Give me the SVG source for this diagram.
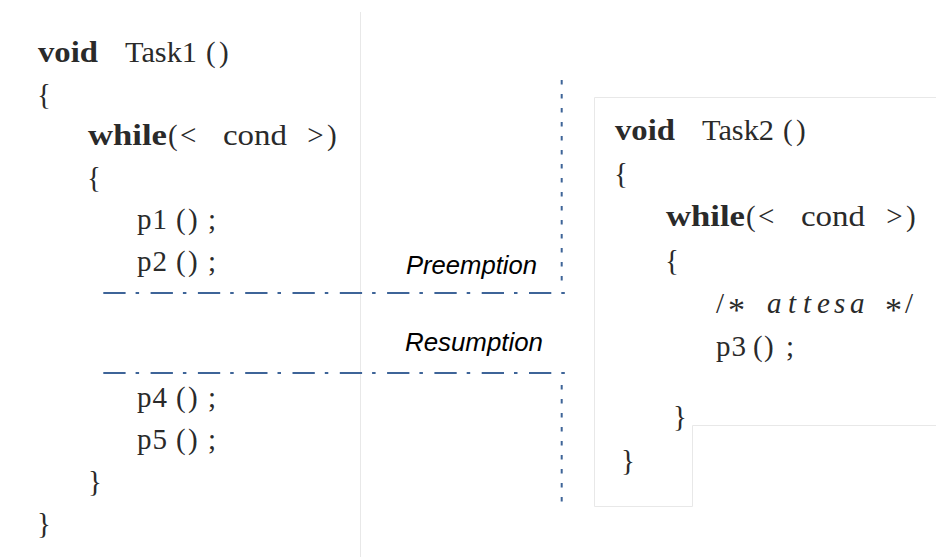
<svg xmlns="http://www.w3.org/2000/svg" width="936" height="557" viewBox="0 0 936 557">
<style>
.code{font-family:"Liberation Serif","Times New Roman",serif;font-size:29px;fill:#2a2a2a}
.b{font-weight:bold}
.i{font-style:italic}
.ast{font-size:34px}
.lbl{font-family:"Liberation Sans",Arial,sans-serif;font-style:italic;font-size:25.5px;fill:#000}
.panel{fill:none;stroke:#e8e8e8;stroke-width:1}
.dashdot{fill:none;stroke:#3e6498;stroke-width:2;stroke-dasharray:22.3 10 3.5 11.5}
.dotted{fill:none;stroke:#3e6498;stroke-width:2;stroke-dasharray:4.5 9.5}
</style>
<rect width="936" height="557" fill="#fff"/>
<g id="panels">
<line class="panel" x1="360.5" y1="12" x2="360.5" y2="557"/>
<path class="panel" d="M936 97.5 H594.5 V506.5 H692.5 V425.5 H936"/>
</g>
<g id="task1" class="code">
<text y="62"><tspan class="b" x="38" textLength="60" lengthAdjust="spacingAndGlyphs">void</tspan> <tspan x="125" textLength="72" lengthAdjust="spacingAndGlyphs">Task1</tspan><tspan x="206">(</tspan><tspan x="219">)</tspan></text>
<text x="37" y="104">{</text>
<text y="145"><tspan class="b" x="88" textLength="79" lengthAdjust="spacingAndGlyphs">while</tspan><tspan x="168">(</tspan><tspan x="180">&lt; </tspan><tspan x="223" textLength="64" lengthAdjust="spacingAndGlyphs">cond</tspan><tspan x="300"> &gt;</tspan><tspan x="327">)</tspan></text>
<text x="87" y="187">{</text>
<text y="229"><tspan x="137" textLength="30">p1</tspan><tspan x="176">(</tspan><tspan x="188">)</tspan><tspan x="208">;</tspan></text>
<text y="271"><tspan x="137" textLength="30">p2</tspan><tspan x="176">(</tspan><tspan x="188">)</tspan><tspan x="208">;</tspan></text>
<text y="407"><tspan x="137" textLength="30">p4</tspan><tspan x="176">(</tspan><tspan x="188">)</tspan><tspan x="208">;</tspan></text>
<text y="449"><tspan x="137" textLength="30">p5</tspan><tspan x="176">(</tspan><tspan x="188">)</tspan><tspan x="208">;</tspan></text>
<text x="88" y="491">}</text>
<text x="37" y="533">}</text>
</g>
<g id="task2" class="code">
<text y="140"><tspan class="b" x="615" textLength="60" lengthAdjust="spacingAndGlyphs">void</tspan> <tspan x="702" textLength="72" lengthAdjust="spacingAndGlyphs">Task2</tspan><tspan x="783">(</tspan><tspan x="796">)</tspan></text>
<text x="614" y="183">{</text>
<text y="226"><tspan class="b" x="666" textLength="79" lengthAdjust="spacingAndGlyphs">while</tspan><tspan x="746">(</tspan><tspan x="758">&lt; </tspan><tspan x="801" textLength="64" lengthAdjust="spacingAndGlyphs">cond</tspan><tspan x="879"> &gt;</tspan><tspan x="906">)</tspan></text>
<text x="665" y="270">{</text>
<text y="313"><tspan x="716">/</tspan><tspan class="ast" x="728" dy="8">*</tspan><tspan class="i" x="767" dy="-8">a</tspan><tspan class="i" x="788">t</tspan><tspan class="i" x="803">t</tspan><tspan class="i" x="817">e</tspan><tspan class="i" x="834">s</tspan><tspan class="i" x="850">a</tspan><tspan class="ast" x="885" dy="8">*</tspan><tspan x="905" dy="-8">/</tspan></text>
<text y="356"><tspan x="716" textLength="30">p3</tspan><tspan x="753">(</tspan><tspan x="764">)</tspan><tspan x="786">;</tspan></text>
<text x="673" y="426">}</text>
<text x="621" y="470">}</text>
</g>
<g id="preemption">
<text class="lbl" x="406" y="274" textLength="131" lengthAdjust="spacingAndGlyphs">Preemption</text>
</g>
<g id="resumption">
<text class="lbl" x="405" y="351" textLength="138" lengthAdjust="spacingAndGlyphs">Resumption</text>
</g>
<g id="connectors">
<line class="dashdot" x1="103.3" y1="293" x2="565" y2="293"/>
<line class="dashdot" x1="103.3" y1="373" x2="565" y2="373"/>
<line class="dotted" x1="561.7" y1="80" x2="561.7" y2="288"/>
<line class="dotted" x1="561.7" y1="385" x2="561.7" y2="502"/>
</g>
</svg>
